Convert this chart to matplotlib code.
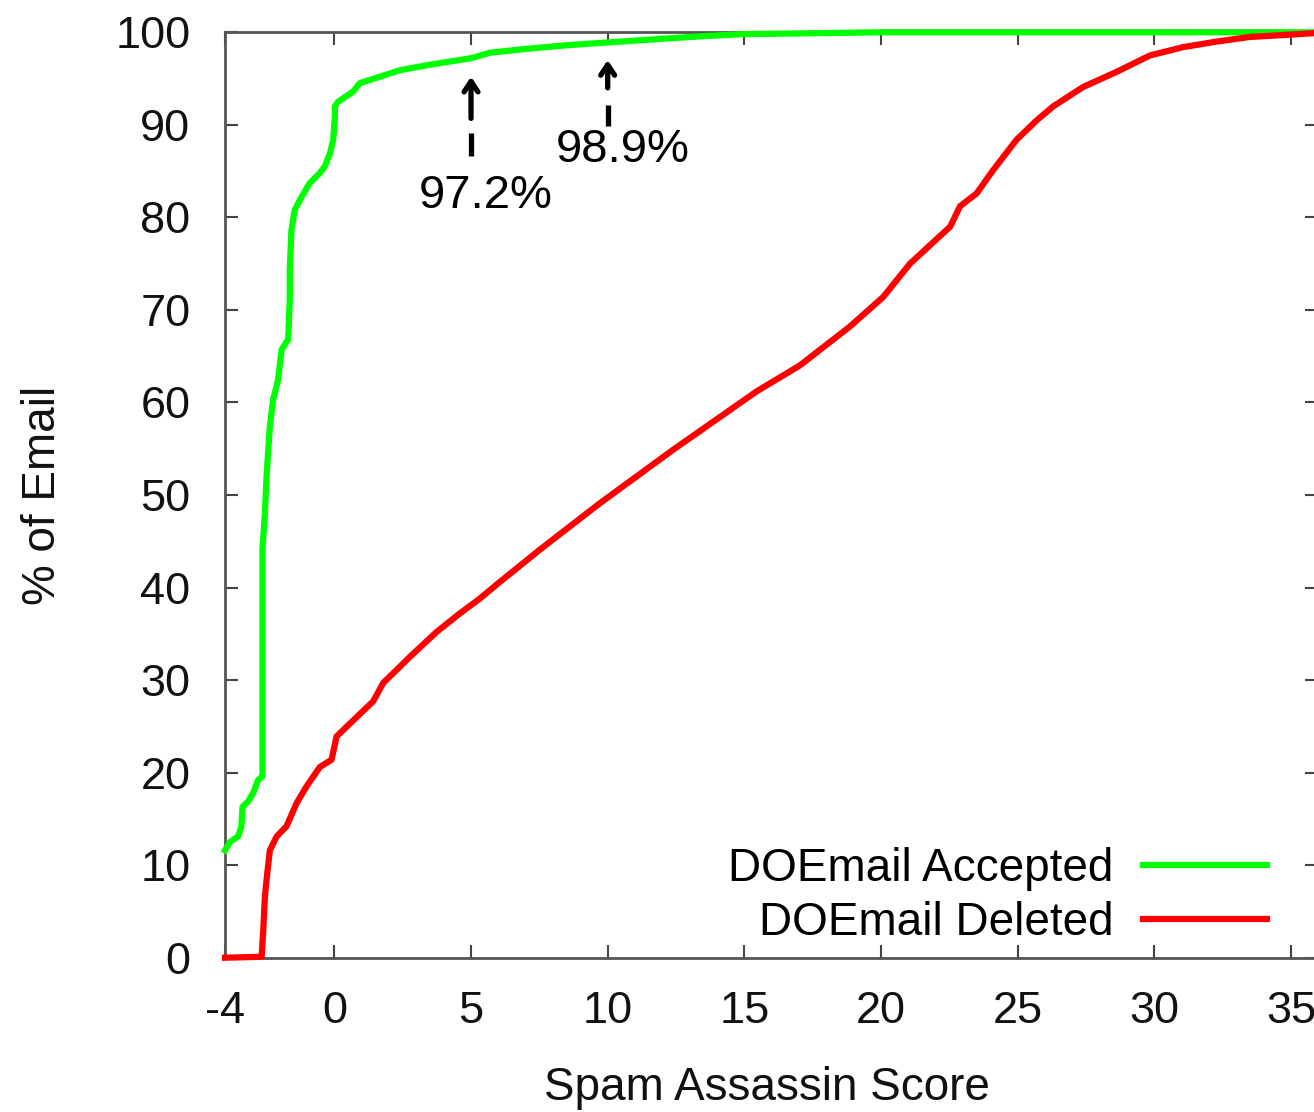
import matplotlib
matplotlib.use("Agg")
import matplotlib.pyplot as plt

plt.rcParams['font.family'] = ['Liberation Sans', 'DejaVu Sans']
plt.rcParams['axes.unicode_minus'] = False

# CDF of Spam Assassin scores
accepted_score = [-4.0, -3.82, -3.52, -3.40, -3.36, -3.15, -2.97, -2.79, -2.63, -2.63,
                  -2.63, -2.54, -2.48, -2.36, -2.24, -2.06, -1.93, -1.69, -1.63, -1.63,
                  -1.57, -1.45, -1.20, -0.90, -0.53, -0.35, -0.16, -0.04, 0.02, 0.02,
                  0.14, 0.69, 0.93, 1.66, 2.40, 3.5, 5.0, 5.7, 7.0, 8.5,
                  10.0, 12.0, 13.6, 15.0, 17.5, 20.0, 25.0, 30.0, 36.0]
accepted_pct = [11.6, 12.5, 13.1, 14.2, 16.3, 16.9, 17.8, 19.2, 19.6, 30.7,
                44.1, 48.0, 52.0, 57.4, 60.3, 62.4, 65.7, 66.8, 71.1, 74.3,
                78.6, 80.8, 82.2, 83.7, 84.8, 85.5, 86.9, 88.4, 90.9, 92.0,
                92.5, 93.6, 94.5, 95.2, 95.9, 96.5, 97.2, 97.8, 98.2, 98.6,
                98.9, 99.3, 99.6, 99.8, 99.9, 100.0, 100.0, 100.0, 100.0]

deleted_score = [-4.0, -2.66, -2.60, -2.54, -2.48, -2.36, -2.11, -1.75, -1.38, -1.02,
                 -0.53, -0.10, 0.08, 0.57, 1.42, 1.79, 2.28, 2.76, 3.74, 4.59,
                 5.32, 5.93, 7.52, 9.71, 12.40, 15.45, 17.03, 18.86, 20.08, 21.06,
                 22.53, 22.89, 23.5, 24.1, 24.96, 25.7, 26.3, 27.4, 28.6, 29.84,
                 31.06, 32.28, 33.5, 34.7, 35.8, 36.0]
deleted_pct = [0.0, 0.1, 3.0, 6.6, 8.4, 11.6, 13.1, 14.2, 16.7, 18.5,
               20.6, 21.4, 23.9, 25.3, 27.7, 29.7, 31.1, 32.5, 35.2, 37.2,
               38.8, 40.3, 44.1, 49.1, 54.9, 61.2, 64.0, 68.2, 71.4, 75.0,
               79.0, 81.2, 82.6, 85.1, 88.4, 90.5, 92.0, 94.1, 95.7, 97.5,
               98.4, 99.0, 99.5, 99.7, 99.9, 99.9]

x_ticks = [-4, 0, 5, 10, 15, 20, 25, 30, 35]
y_ticks = [0, 10, 20, 30, 40, 50, 60, 70, 80, 90, 100]

# callouts: (score, arrow tip, solid start, dash top, dash bottom, label x, label y, text)
callouts = [
    (5, 95.2, 90.7, 89.1, 86.6, 5.55, 82.3, '97.2%'),
    (10, 97.0, 94.0, 92.1, 89.9, 10.55, 87.3, '98.9%'),
]

fig = plt.figure(figsize=(13.14, 11.12), dpi=100)
ax = fig.add_axes([225 / 1314, 1 - 957.7 / 1112, 1093.4 / 1314, 925.4 / 1112])

ax.plot(accepted_score, accepted_pct, color='#00ff00', lw=4.5,
        label='DOEmail Accepted', clip_on=False, zorder=3)
ax.plot(deleted_score, deleted_pct, color='#ff0000', lw=4.5,
        label='DOEmail Deleted', clip_on=False, zorder=3)

for sx, tip, solid, d_top, d_bot, tx, ty, txt in callouts:
    ax.annotate('', xy=(sx, tip), xytext=(sx, solid),
                arrowprops=dict(arrowstyle='->,head_length=0.75,head_width=0.5',
                                lw=3.8, color='black', shrinkA=0, shrinkB=0))
    ax.plot([sx, sx], [d_bot, d_top], color='black', lw=3.8, solid_capstyle='butt')
    ax.text(tx, ty, txt, fontsize=34, ha='center', va='center', color='black')

ax.set_xlim(-4, 36)
ax.set_ylim(0, 100)
ax.set_xticks(x_ticks)
ax.set_yticks(y_ticks)
ax.tick_params(direction='in', top=True, right=True, length=9.5, width=1.5,
               color='#444444', labelsize=32.5, labelcolor='#111111')
ax.tick_params(axis='x', pad=24)
ax.tick_params(axis='y', pad=25)
for s in ax.spines.values():
    s.set_color('#555555')
    s.set_linewidth(2)

ax.set_xlabel('Spam Assassin Score', fontsize=33, color='#111111')
ax.set_ylabel('% of Email', fontsize=33, color='#111111')
ax.xaxis.set_label_coords(0.496, -0.117)
ax.yaxis.set_label_coords(-0.146, 0.5)

ax.legend(loc='lower right', bbox_to_anchor=(0.953, 0.014), markerfirst=False,
          frameon=False, fontsize=33, handlelength=2.7, handletextpad=0.65,
          labelspacing=0.22, borderpad=0, borderaxespad=0)

fig.savefig('out.png', dpi=100)
